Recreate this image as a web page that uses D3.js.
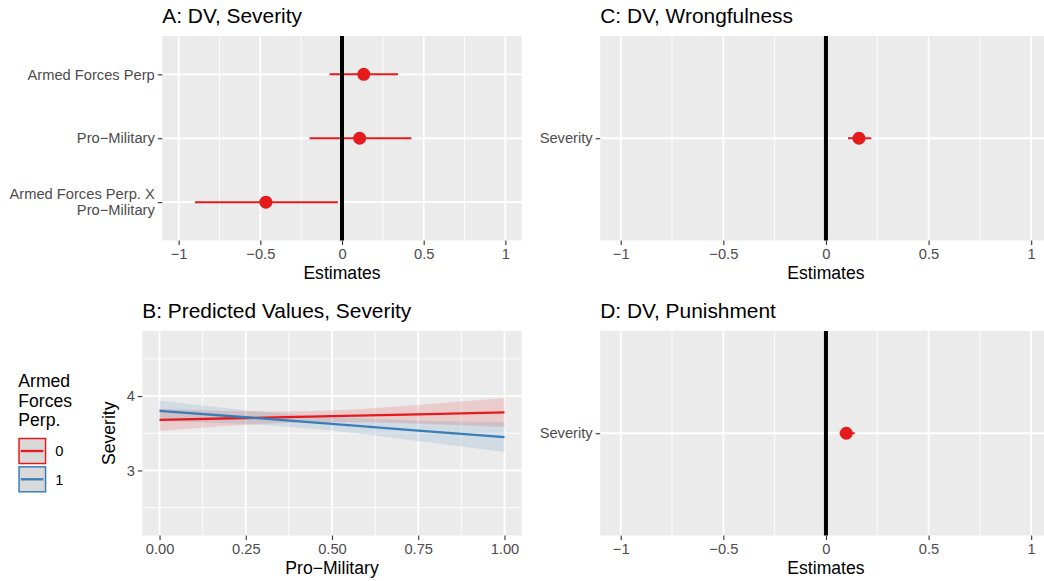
<!DOCTYPE html>
<html>
<head>
<meta charset="utf-8">
<script src="https://cdn.jsdelivr.net/npm/d3@7"></script>
<style>
body{margin:0;background:#fff;}
svg{display:block;font-family:'Liberation Sans',Arial,Helvetica,sans-serif;}
.axis text{fill:#4d4d4d;font-size:14.7px;}
.axis line{stroke:#333;stroke-width:1.1;}
.axis .domain{display:none;}
.ptitle{font-size:20.9px;fill:#000;}
.atitle{font-size:17.6px;fill:#000;}
</style>
</head>
<body>
<svg id="chart" width="1044" height="581"></svg>
<script>
// ---- coefficient estimates (A, C, D) ----
const termsA = ["Armed Forces Perp", "Pro\u2212Military", "Armed Forces Perp. X\nPro\u2212Military"];
const estA  = [0.133, 0.108, -0.466];
const lowA  = [-0.076, -0.199, -0.900];
const highA = [0.343, 0.425, -0.025];

const termsC = ["Severity"];
const estC  = [0.161];
const lowC  = [0.107];
const highC = [0.221];

const termsD = ["Severity"];
const estD  = [0.099];
const lowD  = [0.067];
const highD = [0.140];

const estTicks = [-1, -0.5, 0, 0.5, 1];
const estMinor = [-0.75, -0.25, 0.25, 0.75];

// ---- predicted values (B) ----
const proMil = [0, 0.25, 0.5, 0.75, 1];
const fit0  = [3.680, 3.705, 3.730, 3.755, 3.780];
const low0  = [3.530, 3.615, 3.652, 3.629, 3.585];
const high0 = [3.830, 3.795, 3.808, 3.881, 3.975];
const fit1  = [3.800, 3.715, 3.625, 3.535, 3.447];
const low1  = [3.660, 3.622, 3.533, 3.397, 3.247];
const high1 = [3.940, 3.809, 3.717, 3.673, 3.647];
const groups = ["0", "1"];
const groupColors = ["#e41a1c", "#377eb8"];
const proTicks = [0, 0.25, 0.5, 0.75, 1];
const proMinor = [0.125, 0.375, 0.625, 0.875];
const sevTicks = [3, 4];
const sevMinor = [2.5, 3.5, 4.5];

const svg = d3.select("#chart");
const fmtEst = d3.format("~g");

function panelBg(g, x, y, box, xMajor, xMinor, yMajor, yMinor){
    g.append("rect").attr("x",box.l).attr("y",box.t).attr("width",box.r-box.l).attr("height",box.b-box.t).attr("fill","#ebebeb");
    var grid = function(vals, w, vertical){
        g.append("g").selectAll("line").data(vals).join("line")
            .attr("x1",function(d){return vertical?x(d):box.l;}).attr("x2",function(d){return vertical?x(d):box.r;})
            .attr("y1",function(d){return vertical?box.t:y(d);}).attr("y2",function(d){return vertical?box.b:y(d);})
            .attr("stroke","#fff").attr("stroke-width",w);
    };
    grid(xMinor,0.9,true); grid(yMinor,0.9,false);
    grid(xMajor,1.8,true); grid(yMajor,1.8,false);
}

function styleAxes(gx, gy){
    gx.selectAll(".domain").remove(); gy.selectAll(".domain").remove();
}

function coefPanel(box, title, terms, est, low, high){
    var g = svg.append("g");
    var x = d3.scaleLinear().domain([-1.1,1.1]).range([box.l,box.r]);
    var y = d3.scalePoint().domain(terms).range([box.t,box.b]).padding(0.6);
    panelBg(g, x, y, box, estTicks, estMinor, terms, []);

    var rows = terms.map(function(t,i){return {term:t, est:est[i], lo:low[i], hi:high[i]};});
    g.append("g").selectAll("line").data(rows).join("line")
        .attr("x1",function(d){return x(d.lo);}).attr("x2",function(d){return x(d.hi);})
        .attr("y1",function(d){return y(d.term);}).attr("y2",function(d){return y(d.term);})
        .attr("stroke","#e41a1c").attr("stroke-width",2);
    g.append("line").attr("x1",x(0)).attr("x2",x(0)).attr("y1",box.t).attr("y2",box.b)
        .attr("stroke","#000").attr("stroke-width",4);
    g.append("g").selectAll("circle").data(rows).join("circle")
        .attr("cx",function(d){return x(d.est);}).attr("cy",function(d){return y(d.term);})
        .attr("r",6.5).attr("fill","#e41a1c");

    var gx = g.append("g").attr("class","axis").attr("transform","translate(0,"+box.b+")")
        .call(d3.axisBottom(x).tickValues(estTicks).tickFormat(fmtEst).tickSize(4.5).tickPadding(3.5));
    var gy = g.append("g").attr("class","axis").attr("transform","translate("+box.l+",0)")
        .call(d3.axisLeft(y).tickSize(4.5).tickPadding(3));
    styleAxes(gx, gy);
    gy.selectAll(".tick text").each(function(d){
        var lines = d.split("\n");
        if(lines.length < 2) return;
        var t = d3.select(this).text("").attr("dy",null);
        lines.forEach(function(s,i){
            t.append("tspan").attr("x",-7.5).attr("dy", i===0 ? (0.32-0.545*(lines.length-1))+"em" : "1.09em").text(s);
        });
    });

    g.append("text").attr("class","ptitle").attr("x",box.l).attr("y",box.t-13.3).text(title);
    g.append("text").attr("class","atitle").attr("text-anchor","middle")
        .attr("x",(box.l+box.r)/2).attr("y",box.b+38.5).text("Estimates");
}

coefPanel({l:162.3,r:521.7,t:36,b:240.5}, "A: DV, Severity", termsA, estA, lowA, highA);
coefPanel({l:600.2,r:1051.7,t:36,b:240.5}, "C: DV, Wrongfulness", termsC, estC, lowC, highC);
coefPanel({l:600.2,r:1051.7,t:331,b:535.5}, "D: DV, Punishment", termsD, estD, lowD, highD);

// ---- panel B ----
(function(){
    var box = {l:142.3,r:521.7,t:331,b:535.5};
    var g = svg.append("g");
    var x = d3.scaleLinear().domain([-0.05,1.05]).range([box.l,box.r]);
    var y = d3.scaleLinear().domain([2.125,4.875]).range([box.b,box.t]);
    panelBg(g, x, y, box, proTicks, proMinor, sevTicks, sevMinor);

    var series = [
        {fit:fit0, lo:low0, hi:high0},
        {fit:fit1, lo:low1, hi:high1}
    ];
    var area = d3.area().curve(d3.curveNatural)
        .x(function(d){return x(d.x);}).y0(function(d){return y(d.lo);}).y1(function(d){return y(d.hi);});
    var line = d3.line().x(function(d){return x(d.x);}).y(function(d){return y(d.fit);});
    series.forEach(function(s,k){
        var pts = proMil.map(function(v,i){return {x:v, fit:s.fit[i], lo:s.lo[i], hi:s.hi[i]};});
        g.append("path").datum(pts).attr("d",area).attr("fill",groupColors[k]).attr("fill-opacity",0.15);
    });
    series.forEach(function(s,k){
        var pts = proMil.map(function(v,i){return {x:v, fit:s.fit[i]};});
        g.append("path").datum(pts).attr("d",line).attr("fill","none")
            .attr("stroke",groupColors[k]).attr("stroke-width",2.3);
    });

    var gx = g.append("g").attr("class","axis").attr("transform","translate(0,"+box.b+")")
        .call(d3.axisBottom(x).tickValues(proTicks).tickFormat(d3.format(".2f")).tickSize(4.5).tickPadding(3.5));
    var gy = g.append("g").attr("class","axis").attr("transform","translate("+box.l+",0)")
        .call(d3.axisLeft(y).tickValues(sevTicks).tickFormat(d3.format("d")).tickSize(4.5).tickPadding(3));
    styleAxes(gx, gy);

    g.append("text").attr("class","ptitle").attr("x",box.l).attr("y",box.t-13.3).text("B: Predicted Values, Severity");
    g.append("text").attr("class","atitle").attr("text-anchor","middle")
        .attr("x",(box.l+box.r)/2).attr("y",box.b+38.5).text("Pro\u2212Military");
    g.append("text").attr("class","atitle").attr("text-anchor","middle")
        .attr("transform","translate(114.5,"+((box.t+box.b)/2)+") rotate(-90)").text("Severity");

    // legend
    var lg = svg.append("g").attr("transform","translate(18.3,0)");
    ["Armed","Forces","Perp."].forEach(function(s,i){
        lg.append("text").attr("class","atitle").attr("x",0).attr("y",387.3+i*19.2).text(s);
    });
    groups.forEach(function(gname,i){
        var ky = 438.5 + i*28.3;
        lg.append("rect").attr("x",0.75).attr("y",ky).attr("width",26.5).attr("height",25)
            .attr("fill","#d9d9d9").attr("stroke",groupColors[i]).attr("stroke-width",1.5);
        lg.append("line").attr("x1",2.5).attr("x2",25).attr("y1",ky+12.5).attr("y2",ky+12.5)
            .attr("stroke",groupColors[i]).attr("stroke-width",2.3);
        lg.append("text").attr("x",37).attr("y",ky+17.8).style("font-size","14.7px").attr("fill","#000").text(gname);
    });
})();
</script>
</body>
</html>
